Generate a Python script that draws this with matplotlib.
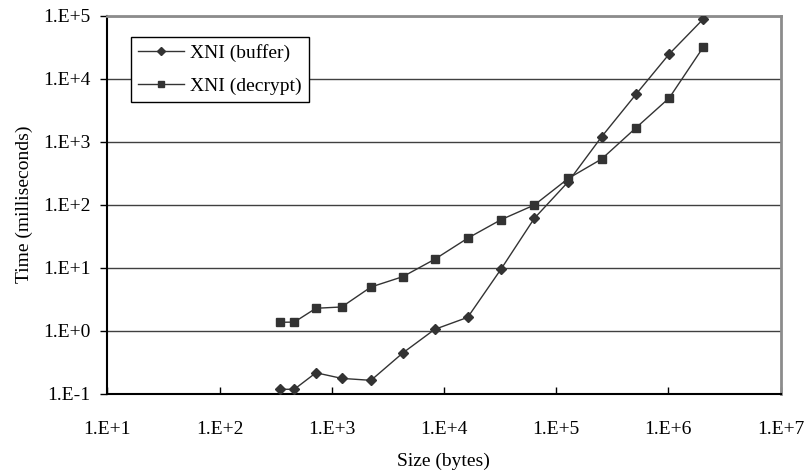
import matplotlib
matplotlib.use("Agg")
import matplotlib.pyplot as plt
from matplotlib.ticker import FixedLocator, FixedFormatter, NullLocator

# sizes in bytes
sizes = [346, 464, 724, 1228, 2240, 4300, 8280, 16300, 32300, 64000,
         128500, 254700, 515000, 1020000, 2050000]
buffer_ms = [0.1175, 0.1175, 0.215, 0.175, 0.163, 0.443, 1.05, 1.63, 9.5,
             60.8, 232, 1200, 5650, 24700, 88600]
decrypt_ms = [1.36, 1.37, 2.27, 2.38, 4.94, 7.2, 13.6, 29.4, 57.8, 98.9,
              261, 531, 1660, 4950, 31700]

x_ticks = [1e1, 1e2, 1e3, 1e4, 1e5, 1e6, 1e7]
x_labels = ["1.E+1", "1.E+2", "1.E+3", "1.E+4", "1.E+5", "1.E+6", "1.E+7"]
y_ticks = [1e-1, 1e0, 1e1, 1e2, 1e3, 1e4, 1e5]
y_labels = ["1.E-1", "1.E+0", "1.E+1", "1.E+2", "1.E+3", "1.E+4", "1.E+5"]

plt.rcParams['font.family'] = ['Liberation Serif', 'DejaVu Serif']
FS = 14

fig = plt.figure(figsize=(8.07, 4.74), dpi=100)
ax = fig.add_axes([107.3 / 807, (474 - 393.7) / 474, 673.2 / 807, 378 / 474])

ax.set_xscale('log')
ax.set_yscale('log')
ax.set_xlim(1e1, 1e7)
ax.set_ylim(1e-1, 1e5)

ax.xaxis.set_major_locator(FixedLocator(x_ticks))
ax.xaxis.set_major_formatter(FixedFormatter(x_labels))
ax.yaxis.set_major_locator(FixedLocator(y_ticks))
ax.yaxis.set_major_formatter(FixedFormatter(y_labels))
ax.xaxis.set_minor_locator(NullLocator())
ax.yaxis.set_minor_locator(NullLocator())

ax.grid(axis='y', which='major', color='#404040', linewidth=1.0)
ax.set_axisbelow(True)

ax.plot(sizes, buffer_ms, color='#333333', linewidth=1.0, marker='D',
        markersize=5.5, markerfacecolor='#333333', markeredgecolor='#333333',
        label='XNI (buffer)', zorder=3)
ax.plot(sizes, decrypt_ms, color='#333333', linewidth=1.0, marker='s',
        markersize=6, markerfacecolor='#333333', markeredgecolor='#333333',
        label='XNI (decrypt)', zorder=3)

for side in ['top', 'right']:
    ax.spines[side].set_color('#8c8c8c')
    ax.spines[side].set_linewidth(2.0)
for side in ['left', 'bottom']:
    ax.spines[side].set_color('black')
    ax.spines[side].set_linewidth(1.5)

ax.tick_params(axis='x', direction='in', length=5, width=1, pad=20,
               labelsize=FS, colors='black')
ax.tick_params(axis='y', direction='out', length=5, width=1, pad=7,
               labelsize=FS, colors='black')

ax.set_xlabel('Size (bytes)', fontsize=FS, labelpad=10)
ax.set_ylabel('Time (milliseconds)', fontsize=FS, labelpad=7)

leg = ax.legend(loc='upper left', bbox_to_anchor=(0.035, 0.944),
                borderaxespad=0, fontsize=FS, frameon=True, fancybox=False,
                framealpha=1, edgecolor='black', handlelength=2.4,
                handletextpad=0.3, labelspacing=0.8, borderpad=0.35,
                markerscale=0.75)
leg.get_frame().set_linewidth(1.0)

fig.savefig('out.png', dpi=100, facecolor='white')
